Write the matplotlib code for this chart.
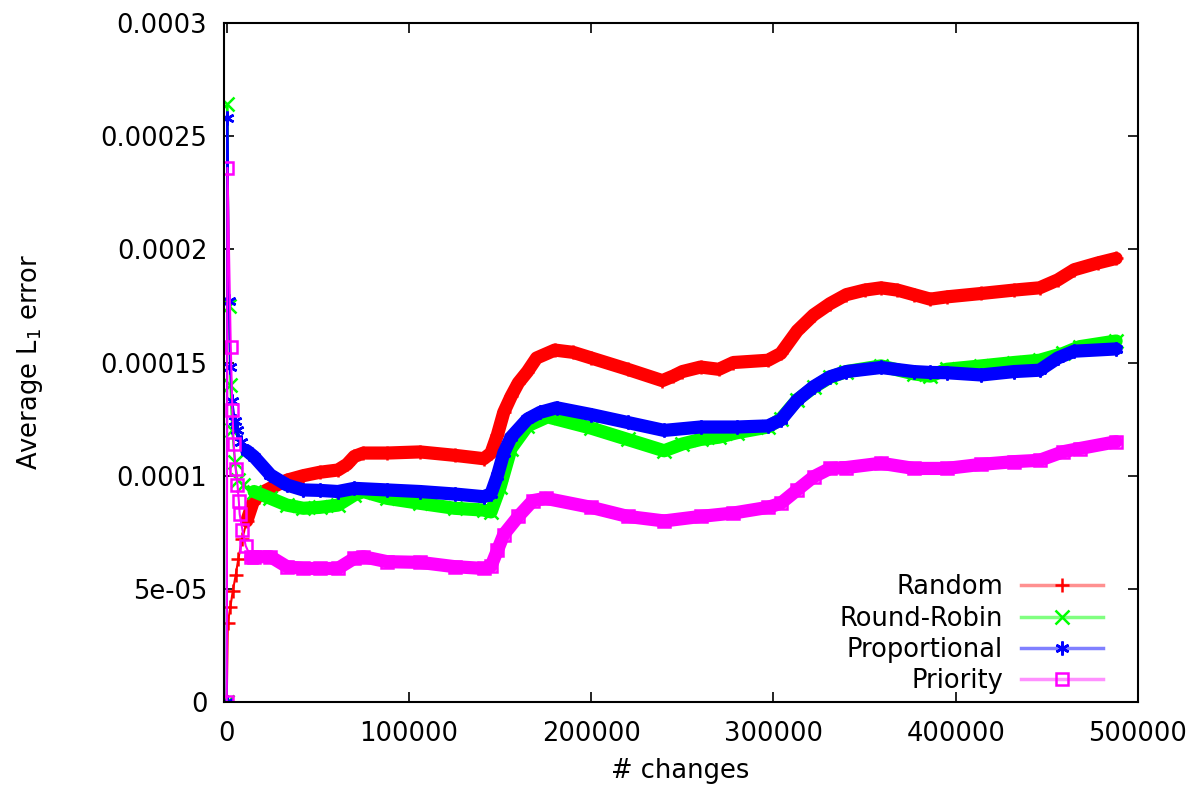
import numpy as np
import matplotlib
matplotlib.use('Agg')
import matplotlib.pyplot as plt
from matplotlib.lines import Line2D

# values (x = # changes, y in units of 1e-5)
random_x = [0, 600, 2000, 3300, 4900, 6300, 8500, 11000, 14300, 18000, 24000,
            33000, 42000, 51000, 61000, 66000, 70000, 75000, 88000, 106000,
            125000, 141000, 145000, 148500, 152000, 156000, 160000, 165000,
            170000, 180000, 190000, 200000, 220000, 239000, 245000, 250000,
            260000, 270000, 278000, 297000, 304000, 313000, 322000, 331000,
            340000, 350000, 359000, 368000, 377000, 386000, 395000, 414000,
            432000, 446000, 456000, 465000, 478000, 488000]
random_y = [0, 3.5, 4.2, 4.9, 5.6, 6.3, 7.2, 8.0, 8.8, 9.2, 9.45,
            9.8, 10.0, 10.15, 10.25, 10.5, 10.85, 11.0, 11.0, 11.05,
            10.9, 10.75, 11.0, 11.8, 12.8, 13.5, 14.1, 14.6,
            15.2, 15.55, 15.45, 15.2, 14.7, 14.2, 14.4, 14.6,
            14.8, 14.7, 15.0, 15.1, 15.4, 16.4, 17.1, 17.6,
            18.0, 18.2, 18.3, 18.2, 18.0, 17.8, 17.9, 18.05,
            18.2, 18.3, 18.65, 19.1, 19.4, 19.6]

rr_x = [0, 300, 1200, 2000, 3000, 4500, 6000, 9000, 15000, 24000, 33000,
        42000, 51000, 61000, 70000, 75000, 88000, 106000, 125000, 141000,
        145000, 150000, 156000, 165000, 176000, 200000, 220000, 240000,
        250000, 260000, 270000, 280000, 297000, 304000, 313000, 322000,
        331000, 340000, 359000, 377000, 386000, 395000, 414000, 432000,
        446000, 459000, 468000, 488000]
rr_y = [0, 26.4, 17.5, 14.0, 12.0, 10.6, 9.8, 9.6, 9.3, 9.0, 8.7,
        8.56, 8.6, 8.7, 9.15, 9.3, 9.0, 8.78, 8.56, 8.48,
        8.4, 9.5, 11.2, 12.2, 12.6, 12.1, 11.6, 11.1,
        11.4, 11.6, 11.7, 11.9, 12.15, 12.5, 13.35, 13.9,
        14.35, 14.6, 14.85, 14.5, 14.4, 14.7, 14.85, 15.0,
        15.1, 15.4, 15.7, 15.95]

prop_x = [0, 300, 1200, 2000, 3000, 4500, 5900, 8000, 11000, 15000, 24000,
          33000, 42000, 51000, 61000, 70000, 88000, 106000, 125000, 141000,
          145000, 148500, 152000, 156000, 165000, 172000, 181000, 200000,
          220000, 240000, 260000, 280000, 297000, 304000, 313000, 322000,
          331000, 340000, 359000, 377000, 386000, 395000, 414000, 432000,
          446000, 456000, 465000, 488000]
prop_y = [0, 25.8, 17.7, 14.8, 13.3, 12.4, 12.0, 11.5, 11.1, 10.84, 10.03,
          9.59, 9.37, 9.35, 9.3, 9.44, 9.37, 9.3, 9.19, 9.07,
          9.2, 10.0, 11.0, 11.7, 12.5, 12.8, 13.0, 12.7,
          12.35, 12.0, 12.15, 12.15, 12.2, 12.46, 13.34, 13.93,
          14.37, 14.6, 14.78, 14.6, 14.56, 14.55, 14.45, 14.6,
          14.66, 15.2, 15.5, 15.6]

prio_x = [0, 400, 2200, 3100, 3800, 4900, 5900, 6600, 7100, 8600, 10400,
          13200, 15000, 24000, 33000, 42000, 51000, 61000, 70000, 75000,
          88000, 106000, 125000, 141000, 145000, 148500, 152000, 160000,
          168000, 175000, 200000, 220000, 240000, 260000, 278000, 297000,
          304000, 313000, 322000, 331000, 340000, 359000, 377000, 395000,
          414000, 432000, 446000, 459000, 468000, 488000]
prio_y = [0, 23.6, 15.7, 12.9, 11.4, 10.3, 9.6, 8.9, 8.3, 7.6, 6.9,
          6.4, 6.42, 6.42, 5.98, 5.9, 5.9, 5.9, 6.35, 6.42,
          6.2, 6.17, 5.98, 5.9, 6.0, 6.7, 7.4, 8.2,
          8.9, 9.0, 8.6, 8.2, 8.0, 8.2, 8.35, 8.6,
          8.78, 9.37, 9.95, 10.32, 10.36, 10.55, 10.32, 10.32,
          10.5, 10.62, 10.68, 11.06, 11.2, 11.5]

series_names = ['Random', 'Round-Robin', 'Proportional', 'Priority']
x_ticks = [0, 100000, 200000, 300000, 400000, 500000]
y_ticks = [0, 5e-05, 0.0001, 0.00015, 0.0002, 0.00025, 0.0003]
y_tick_labels = ['0', '5e-05', '0.0001', '0.00015', '0.0002', '0.00025', '0.0003']

plt.rcParams['font.family'] = ['DejaVu Sans']
fs = 18.5

fig = plt.figure(figsize=(11.96, 7.91), dpi=100)
ax = fig.add_axes([0.1873, 0.1125, 0.9515 - 0.1873, 0.9709 - 0.1125])

styles = [
    (random_x, random_y, '#ff0000', '#ff9090', '+'),
    (rr_x, rr_y, '#00ff00', '#80ff80', 'x'),
    (prop_x, prop_y, '#0000ff', '#8080ff', (6, 2, 0)),
    (prio_x, prio_y, '#ff00ff', '#ff90ff', 's'),
]

handles = []
for name, (xs, ys, col, light, mk) in zip(series_names, styles):
    xs = np.array(xs)
    ys = np.array(ys) * 1e-5
    band = xs >= 11000
    ax.plot(xs[band], ys[band], color=col, lw=9.5, solid_capstyle='round',
            solid_joinstyle='round')
    face = 'none' if mk == 's' else col
    ms = 8 if mk == 's' else 10
    ax.plot(xs, ys, color=col, lw=1.5, marker=mk, ms=ms, mew=1.8,
            mfc=face, mec=col)
    handles.append(Line2D([], [], color=light, lw=2.5, marker=mk, ms=ms,
                          mew=1.8, mfc=face, mec=col, label=name))

ax.set_xlim(-1500, 500000)
ax.set_ylim(0, 0.0003)
ax.set_xticks(x_ticks)
ax.set_xticklabels([str(t) for t in x_ticks])
ax.set_yticks(y_ticks)
ax.set_yticklabels(y_tick_labels)
ax.tick_params(direction='in', length=7, width=1.2, top=True, right=True,
               labelsize=fs)
ax.tick_params(axis='x', pad=14)
ax.tick_params(axis='y', pad=12)
for s in ax.spines.values():
    s.set_linewidth(1.5)

ax.set_xlabel('# changes', fontsize=fs)
ax.set_ylabel('Average L$_1$ error', fontsize=fs)
ax.xaxis.set_label_coords(0.499, -0.0825)
ax.yaxis.set_label_coords(-0.196, 0.5)

ax.legend(handles=handles, loc='lower right', bbox_to_anchor=(0.962, 0.012),
          frameon=False, markerfirst=False, handlelength=3.2,
          handletextpad=0.7, labelspacing=0.2, borderpad=0,
          borderaxespad=0, fontsize=fs)

fig.savefig('out.png', dpi=100)
